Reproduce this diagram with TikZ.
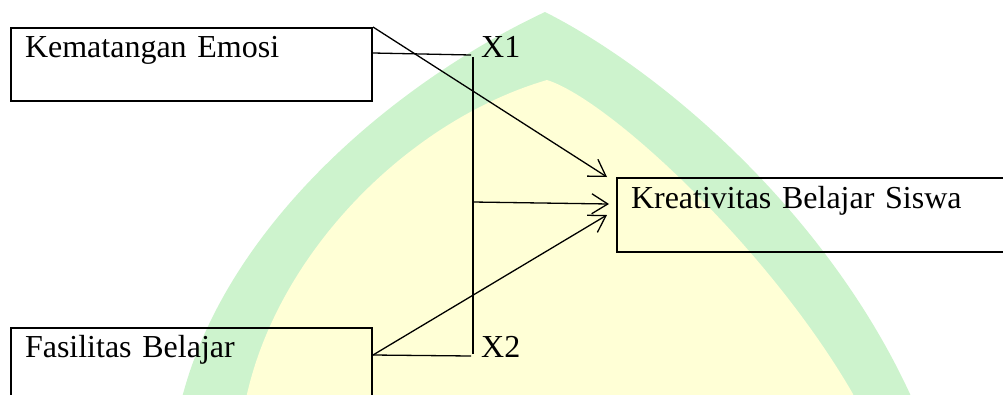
\documentclass[tikz,border=0pt]{standalone}
\usepackage{fontspec}
\setmainfont{Liberation Serif}
\usetikzlibrary{arrows.meta,positioning,calc}
\definecolor{markgreen}{HTML}{CDF3CD}
\definecolor{markyellow}{HTML}{FFFFD6}

\begin{document}
\begin{tikzpicture}[x=1pt, y=-1pt, >={Straight Barb[length=16pt,width=20pt]},
    var/.style={draw, line width=2pt, anchor=north west, align=left,
                inner xsep=14pt, inner ysep=0pt, text depth=44pt,
                font=\fontsize{32}{38}\selectfont},
    lbl/.style={inner sep=0pt, anchor=base west, font=\fontsize{32}{38}\selectfont},
    link/.style={line width=1.3pt}]

  \useasboundingbox (0,0) rectangle (1003,394);

  % Watermark in the background
  \fill[markgreen] (170,440) -- (183,394) .. controls (230,220) and (400,80) .. (545,12)
    .. controls (660,70) and (825,210) .. (910,394) -- (925,440) -- cycle;
  \fill[markyellow] (238,440) -- (247,394) .. controls (280,250) and (410,120) .. (547,80)
    .. controls (610,100) and (770,250) .. (853,394) -- (866,440) -- cycle;

  % Variables
  \node[var, text width=333pt, text height=29pt] (kem) at (10,27) {Kematangan Emosi};
  \node[var, text width=333pt, text height=29pt] (fas) at (10,327) {Fasilitas Belajar};
  \node[var, text width=372pt, text height=30pt] (kre) at (616,177) {Kreativitas Belajar Siswa};

  \node[lbl] (x1) at (481,57) {X1};
  \node[lbl] (x2) at (481,357) {X2};

  % Bar joining X1 and X2
  \coordinate (e1) at (471,55);
  \coordinate (e2) at (471,356);
  \coordinate (bar1) at (473,57);
  \coordinate (bar2) at (473,354);
  \coordinate (barm) at (473,202);

  \draw[link] ($(kem.north east)+(0,26)$) -- (e1);
  \draw[link] ($(fas.north east)+(0,28)$) -- (e2);
  \draw[link] (bar1) -- (bar2);

  % Arrows to Y
  \draw[link, ->] (kem.north east) -- ($(kre.north west)+(-9,0)$);
  \draw[link, ->] (barm) -- ($(kre.north west)+(-7,27)$);
  \draw[link, ->] ($(fas.north east)+(0,28)$) -- ($(kre.north west)+(-9,38)$);
\end{tikzpicture}
\end{document}
